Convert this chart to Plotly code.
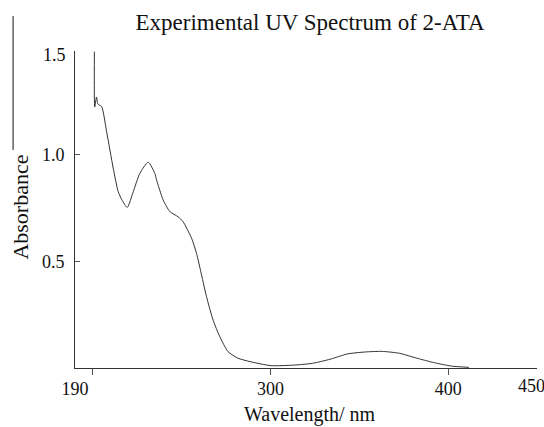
import plotly.graph_objects as go

# Wavelength (nm) and absorbance
wavelength = [200.9, 201.1, 202.1, 202.9, 205.0, 207.8, 211.5, 214.3, 216.4, 219.4,
              222.8, 226.5, 231.2, 234.9, 235.9, 239.6, 243.4, 248.0, 250.8, 255.6,
              258.4, 261.2, 264.0, 267.7, 271.5, 276.1, 281.7, 288.5, 300.3, 314.0,
              323.7, 333.5, 343.3, 353.0, 362.8, 372.6, 382.4, 392.1, 401.9, 411.7]
absorbance = [1.485, 1.225, 1.272, 1.239, 1.227, 1.109, 0.938, 0.828, 0.789, 0.754,
              0.828, 0.914, 0.966, 0.914, 0.883, 0.789, 0.734, 0.710, 0.687, 0.609,
              0.538, 0.437, 0.335, 0.225, 0.147, 0.077, 0.046, 0.030, 0.011, 0.014,
              0.022, 0.041, 0.066, 0.075, 0.078, 0.069, 0.046, 0.025, 0.009, 0.003]

x_range = [190, 450]
y_range = [0, 1.488]
x_tick_vals = [190, 300, 400]
x_tick_text = ["190", "300", "400"]
x_end_label = "450"
x_tick_marks = [200, 300, 400]
y_tick_vals = [0.5, 1.0]
y_tick_text = ["0.5", "1.0"]
y_end_label = "1.5"
y_tick_marks = [0.5, 1.0]

FONT = "Liberation Serif, Times New Roman, serif"
TXT = "#111111"

fig = go.Figure()
fig.add_trace(go.Scatter(x=wavelength, y=absorbance, mode="lines",
                         line=dict(color="#333333", width=1, shape="spline", smoothing=0.6),
                         hoverinfo="skip", showlegend=False))

fig.update_layout(
    width=544, height=427,
    margin=dict(l=75, r=7, t=51, b=59),
    paper_bgcolor="white", plot_bgcolor="white",
    font=dict(family=FONT, color=TXT, size=18),
    title=dict(text="Experimental UV Spectrum of 2-ATA", x=0.57, xanchor="center",
               y=0.948, yanchor="middle", font=dict(family=FONT, size=23, color=TXT)),
    xaxis=dict(range=x_range, showgrid=False, zeroline=False, showline=True,
               linecolor="#333333", linewidth=1, tickmode="array", automargin=False,
               tickvals=x_tick_vals, ticktext=x_tick_text, ticks="",
               tickfont=dict(family=FONT, size=18, color=TXT), ticklabelstandoff=4,
               minor=dict(tickmode="array", tickvals=x_tick_marks, ticks="outside",
                          ticklen=6, tickcolor="#555555", tickwidth=1, showgrid=False)),
    yaxis=dict(range=y_range, showgrid=False, zeroline=False, showline=True,
               linecolor="#333333", linewidth=1, tickmode="array", automargin=False,
               tickvals=y_tick_vals, ticktext=y_tick_text, ticks="",
               tickfont=dict(family=FONT, size=18, color=TXT), ticklabelstandoff=6,
               minor=dict(tickmode="array", tickvals=y_tick_marks, ticks="inside",
                          ticklen=5, tickcolor="#555555", tickwidth=1, showgrid=False)),
    annotations=[
        dict(text=x_end_label, xref="x", yref="paper", x=x_range[1], y=0,
             xanchor="center", yanchor="middle", xshift=-6, yshift=-18, showarrow=False,
             font=dict(family=FONT, size=18, color=TXT)),
        dict(text=y_end_label, xref="paper", yref="y", x=0, y=y_range[1],
             xanchor="right", yanchor="middle", xshift=-7, yshift=-4, showarrow=False,
             font=dict(family=FONT, size=18, color=TXT)),
        dict(text="Wavelength/ nm", xref="paper", yref="paper", x=0.509, y=-0.148,
             xanchor="center", yanchor="middle", showarrow=False,
             font=dict(family=FONT, size=20, color=TXT)),
        dict(text="Absorbance", xref="paper", yref="paper", x=-0.117, y=0.509,
             xanchor="center", yanchor="middle", textangle=-90, showarrow=False,
             font=dict(family=FONT, size=22, color=TXT)),
    ],
    shapes=[dict(type="line", xref="paper", yref="paper", x0=-0.134, x1=-0.134,
                 y0=0.688, y1=1.11, line=dict(color=TXT, width=1))],
)

fig.write_html("out.html", config={"displayModeBar": False},
               post_script="document.body.style.margin='0';")
